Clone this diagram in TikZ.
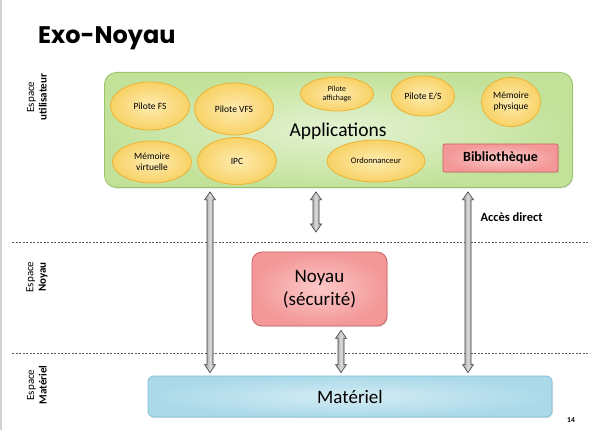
\documentclass[tikz,border=0pt]{standalone}
\usepackage{fontspec}
\setmainfont{Carlito}
\newfontfamily\titlefont{Poppins}
\usetikzlibrary{shapes.geometric,calc,shadows}
\definecolor{grnout}{HTML}{C2E29A}
\definecolor{grnin}{HTML}{E4F3D2}
\definecolor{grnbd}{HTML}{9CC46A}
\definecolor{yelout}{HTML}{F8D266}
\definecolor{yelin}{HTML}{FDEBB0}
\definecolor{yelbd}{HTML}{EDB235}
\definecolor{redout}{HTML}{F39797}
\definecolor{redin}{HTML}{FCC8C8}
\definecolor{redbd}{HTML}{CC6262}
\definecolor{bluout}{HTML}{ABD9E9}
\definecolor{bluin}{HTML}{D3ECF4}
\definecolor{blubd}{HTML}{7DBFD6}
\tikzset{
  shad/.style={drop shadow={opacity=0.22, shadow xshift=1pt, shadow yshift=-1.2pt}},
  appbox/.style={draw=grnbd, line width=0.9pt, rounded corners=12pt, inner color=grnin, outer color=grnout, shad},
  ell/.style={ellipse, draw=yelbd, line width=0.8pt, inner color=yelin, outer color=yelout, inner sep=0pt, align=center, font=\fontsize{9.5}{11}\selectfont},
  redbox/.style={draw=redbd, line width=0.8pt, inner color=redin, outer color=redout, shad},
  matbox/.style={draw=blubd, line width=0.8pt, rounded corners=6pt, inner color=bluin, outer color=bluout, shad},
  arrowstyle/.style={draw=black!75, line width=0.6pt, left color=black!38, right color=black!38, middle color=black!15},
  sep/.style={draw=black!65, line width=0.7pt, dash pattern=on 2pt off 1.5pt},
  side/.style={rotate=90, align=center, font=\fontsize{11}{12.5}\selectfont},
}
\newcommand\dblarrow[2]{%
  \path[arrowstyle] let \p1=(#1), \p2=(#2) in
    (\x1,\y1-4pt) -- (\x1+5.5pt,\y1-12pt) -- (\x1+3pt,\y1-12pt) -- (\x1+3pt,\y2+11pt)
    -- (\x1+5.5pt,\y2+11pt) -- (\x1,\y2+3pt) -- (\x1-5.5pt,\y2+11pt) -- (\x1-3pt,\y2+11pt)
    -- (\x1-3pt,\y1-12pt) -- (\x1-5.5pt,\y1-12pt) -- cycle;}
\begin{document}
\begin{tikzpicture}[x=1pt,y=-1pt]
\useasboundingbox (0,0) rectangle (589,430);
\fill[white] (0,0) rectangle (589,430);
\draw[black!18, line width=1.5pt] (1,0) -- (1,430);

\node[anchor=base west, inner sep=0pt, font=\titlefont\bfseries\fontsize{24}{28}\selectfont] (title) at (38,44) {Exo-Noyau};

% side labels
\node[side] (su) at (37,97) {Espace\\\textbf{utilisateur}};
\node[side] (sn) at (37,277) {Espace\\\textbf{Noyau}};
\node[side] (sm) at (37,385) {Espace\\\textbf{Matériel}};

% separators
\coordinate (d1a) at (12,242); \coordinate (d1b) at (589,242);
\coordinate (d2a) at (12,353); \coordinate (d2b) at (589,353);
\draw[sep] (d1a) -- (d1b);
\draw[sep] (d2a) -- (d2b);

% applications box
\node[appbox, minimum width=468pt, minimum height=115pt, anchor=north west] (apps) at (104,72) {};
\node[font=\fontsize{19.5}{22}\selectfont] (applabel) at (338,131) {Applications};

\node[ell, minimum width=79pt, minimum height=48pt] (pfs) at (150,106) {Pilote FS};
\node[ell, minimum width=79pt, minimum height=52pt] (pvfs) at (234,109) {Pilote VFS};
\node[ell, minimum width=73pt, minimum height=34pt, font=\fontsize{7.8}{9}\selectfont] (paff) at (337,94) {Pilote\\affichage};
\node[ell, minimum width=63pt, minimum height=40pt] (pes) at (423,96) {Pilote E/S};
\node[ell, minimum width=59pt, minimum height=49pt] (mphy) at (511,102) {Mémoire\\physique};
\node[ell, minimum width=79pt, minimum height=42pt] (mvir) at (152,162) {Mémoire\\virtuelle};
\node[ell, minimum width=79pt, minimum height=47pt] (ipc) at (237,161) {IPC};
\node[ell, minimum width=98pt, minimum height=42pt, font=\fontsize{8.5}{10}\selectfont] (ord) at (376,161) {Ordonnanceur};
\node[redbox, rounded corners=2pt, minimum width=115pt, minimum height=28pt, font=\bfseries\fontsize{14}{16}\selectfont] (bib) at (500.5,158) {Bibliothèque};

% noyau
\node[redbox, rounded corners=10pt, minimum width=135pt, minimum height=74pt, align=center, font=\fontsize{19}{23}\selectfont] (noyau) at (319.5,289) {Noyau\\(sécurité)};

% materiel
\node[matbox, minimum width=404pt, minimum height=41pt, font=\fontsize{19}{22}\selectfont] (mat) at (350,396.5) {Matériel};

% arrows
\coordinate (xl) at (210,0);
\coordinate (xm) at (316,0);
\coordinate (xr) at (468,0);
\coordinate (xn) at (341,0);
\coordinate (mend) at (316,235);
\dblarrow{apps.south -| xl}{mat.north -| xl}
\dblarrow{apps.south -| xm}{mend}
\dblarrow{apps.south -| xr}{mat.north -| xr}
\dblarrow{noyau.south -| xn}{mat.north -| xn}

\node[anchor=west, font=\bfseries\fontsize{12.5}{14}\selectfont] (acc) at (477,217) {Accès direct};
\node[font=\bfseries\fontsize{7.5}{8}\selectfont] (pg) at (571,420) {14};
\end{tikzpicture}
\end{document}
